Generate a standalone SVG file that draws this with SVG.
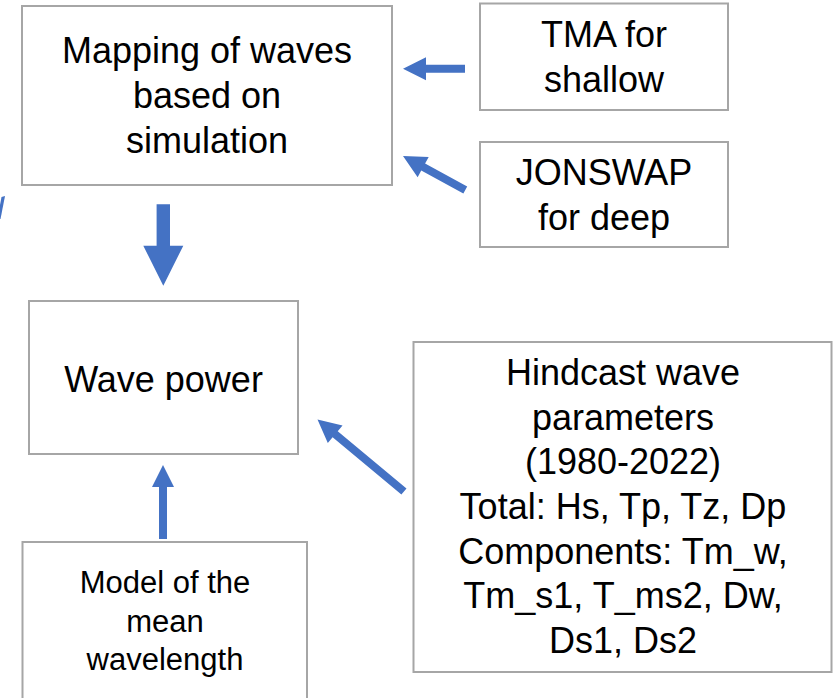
<svg xmlns="http://www.w3.org/2000/svg" width="833" height="698" viewBox="0 0 833 698">
  <style>
    .box { fill: #ffffff; stroke: #a6a6a6; stroke-width: 2; }
    .t { font-family: "Liberation Sans", Arial, sans-serif; font-size: 36px; fill: #000000; text-anchor: middle; }
    .s { font-size: 31px; }
    .arr { fill: #4472c4; stroke: none; }
  </style>
  <rect width="833" height="698" fill="#ffffff"/>

  <g id="mapping">
    <rect class="box" x="22" y="6" width="370" height="179"/>
    <text class="t" x="207" y="63">Mapping of waves</text>
    <text class="t" x="207" y="108">based on</text>
    <text class="t" x="207" y="152.5">simulation</text>
  </g>

  <g id="tma">
    <rect class="box" x="480" y="3.5" width="248" height="106.5"/>
    <text class="t" x="604" y="47">TMA for</text>
    <text class="t" x="604" y="92">shallow</text>
  </g>

  <g id="jonswap">
    <rect class="box" x="480" y="142" width="248" height="105"/>
    <text class="t" x="604" y="185">JONSWAP</text>
    <text class="t" x="604" y="229.5">for deep</text>
  </g>

  <g id="wavepower">
    <rect class="box" x="29" y="301" width="269" height="153"/>
    <text class="t" x="163.5" y="392">Wave power</text>
  </g>

  <g id="hindcast">
    <rect class="box" x="413.5" y="342" width="418" height="330"/>
    <text class="t" x="623" y="385">Hindcast wave</text>
    <text class="t" x="623" y="429.7">parameters</text>
    <text class="t" x="623" y="474.3">(1980-2022)</text>
    <text class="t" x="623" y="519">Total: Hs, Tp, Tz, Dp</text>
    <text class="t" x="623" y="563.7">Components: Tm_w,</text>
    <text class="t" x="623" y="608.3">Tm_s1, T_ms2, Dw,</text>
    <text class="t" x="623" y="653">Ds1, Ds2</text>
  </g>

  <g id="model">
    <rect class="box" x="22.5" y="542" width="284.5" height="170"/>
    <text class="t s" x="165" y="593">Model of the</text>
    <text class="t s" x="165" y="632">mean</text>
    <text class="t s" x="165" y="670">wavelength</text>
  </g>

  <g id="connectors">
    <!-- TMA -> Mapping -->
    <polygon class="arr" transform="translate(403,68.7) rotate(180)" points="0,0 -23,-11.5 -23,-4 -62,-4 -62,4 -23,4 -23,11.5"/>
    <!-- JONSWAP -> Mapping -->
    <polygon class="arr" transform="translate(403,156) rotate(208.7)" points="0,0 -23,-11.5 -23,-4 -71,-4 -71,4 -23,4 -23,11.5"/>
    <!-- Mapping -> Wave power -->
    <polygon class="arr" transform="translate(163.3,285.7) rotate(90)" points="0,0 -40,-20 -40,-6.7 -81.5,-6.7 -81.5,6.7 -40,6.7 -40,20"/>
    <!-- Hindcast -> Wave power -->
    <polygon class="arr" transform="translate(317.5,419.5) rotate(219.8)" points="0,0 -23,-11.5 -23,-4 -112.5,-4 -112.5,4 -23,4 -23,11.5"/>
    <!-- Model -> Wave power -->
    <polygon class="arr" transform="translate(163,465) rotate(-90)" points="0,0 -22,-11 -22,-4 -74,-4 -74,4 -22,4 -22,11"/>
    <!-- partial arrow at left edge -->
    <polygon class="arr" points="1.5,197 5,196 0.5,219 0,219 0,205"/>
  </g>
</svg>
